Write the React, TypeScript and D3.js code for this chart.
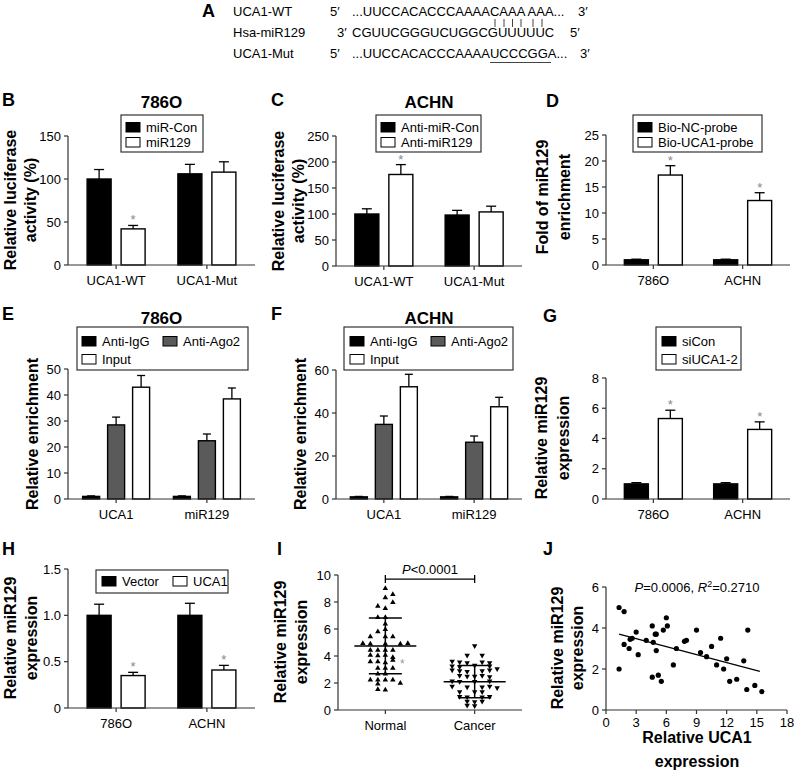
import React from 'react';
import * as d3 from 'd3';

const FONT = '"Liberation Sans", Arial, Helvetica, sans-serif';

// ---------------- data ----------------
const B_groups = ['UCA1-WT', 'UCA1-Mut'];
const B_series = ['miR-Con', 'miR129'];
const B_means = [[100, 106], [42, 108]];
const B_errs = [[11, 11], [4, 12]];
const B_sig = [[false, false], [true, false]];
const B_ticks = [0, 50, 100, 150];

const C_groups = ['UCA1-WT', 'UCA1-Mut'];
const C_series = ['Anti-miR-Con', 'Anti-miR129'];
const C_means = [[100, 98], [176, 104]];
const C_errs = [[10, 9], [19, 11]];
const C_sig = [[false, false], [true, false]];
const C_ticks = [0, 50, 100, 150, 200, 250];

const D_groups = ['786O', 'ACHN'];
const D_series = ['Bio-NC-probe', 'Bio-UCA1-probe'];
const D_means = [[1, 1], [17.3, 12.4]];
const D_errs = [[0.12, 0.12], [1.8, 1.5]];
const D_sig = [[false, false], [true, true]];
const D_ticks = [0, 5, 10, 15, 20, 25];

const E_groups = ['UCA1', 'miR129'];
const E_series = ['Anti-IgG', 'Anti-Ago2', 'Input'];
const E_means = [[1, 1], [28.5, 22.4], [43, 38.5]];
const E_errs = [[0.2, 0.2], [3, 2.6], [4.5, 4.2]];
const E_ticks = [0, 10, 20, 30, 40, 50];

const F_groups = ['UCA1', 'miR129'];
const F_series = ['Anti-IgG', 'Anti-Ago2', 'Input'];
const F_means = [[1, 1], [34.7, 26.4], [52.2, 42.9]];
const F_errs = [[0.2, 0.2], [3.9, 2.9], [5.8, 4.4]];
const F_ticks = [0, 20, 40, 60];

const G_groups = ['786O', 'ACHN'];
const G_series = ['siCon', 'siUCA1-2'];
const G_means = [[1, 1], [5.32, 4.6]];
const G_errs = [[0.08, 0.08], [0.55, 0.5]];
const G_sig = [[false, false], [true, true]];
const G_ticks = [0, 2, 4, 6, 8];

const H_groups = ['786O', 'ACHN'];
const H_series = ['Vector', 'UCA1'];
const H_means = [[1, 1], [0.35, 0.41]];
const H_errs = [[0.12, 0.13], [0.035, 0.05]];
const H_sig = [[false, false], [true, true]];
const H_ticks = [0, 0.5, 1.0, 1.5];

const I_groups = ['Normal', 'Cancer'];
// [value, jitter lane]
const I_normal: [number, number][] = [
  [9.0, 0], [8.57, 1], [8.32, 0], [7.97, 1], [7.7, -1], [7.53, 0],
  [6.86, -1], [6.86, 0], [6.37, 0], [5.97, 0], [5.8, -1],
  [5.43, -2], [5.43, 0], [5.43, 1],
  [4.94, -3], [4.89, -2], [4.89, 0], [4.89, 2], [4.94, 3],
  [4.44, -2], [4.44, -1], [4.44, 0], [4.44, 1],
  [4.07, -2], [4.02, -1], [4.07, 0], [3.9, 1], [3.7, 1],
  [3.58, -2], [3.58, -1], [3.51, 0],
  [3.09, -1], [3.09, 0], [3.09, 1],
  [2.67, -1], [2.67, 0],
  [2.22, -2], [2.22, -1], [2.22, 0], [2.22, 1],
  [1.93, -1], [1.98, 2], [1.53, -1], [1.48, 0],
];
const I_cancer: [number, number][] = [
  [4.75, 0],
  [4.05, -1], [4.05, 1],
  [3.6, -3], [3.55, -2], [3.5, -1], [3.55, 1], [3.5, 2],
  [3.25, -3], [3.2, -2], [3.3, 0], [3.25, 2], [3.05, 3],
  [2.95, -3], [2.9, -2], [2.85, -1], [2.9, 1], [2.95, 2],
  [2.55, -2], [2.5, -1], [2.5, 0], [2.55, 1], [2.45, 2],
  [2.15, -3], [2.1, -2], [2.1, 0], [2.15, 2],
  [1.75, -3], [1.7, -1], [1.7, 1], [1.75, 2], [1.65, 3],
  [1.35, -2], [1.35, 0], [1.35, 1],
  [1.0, -2], [0.95, -1], [0.95, 1], [1.0, 2],
  [0.65, -1], [0.6, 0], [0.65, 1],
  [0.3, 0], [0.35, -1],
];
const I_mean = [4.75, 2.1];
const I_sd = [2.07, 1.2];
const I_ticks = [0, 2, 4, 6, 8, 10];
const I_bracket = 9.7;

const J_x = [1.3, 1.8, 1.3, 1.8, 2.3, 2.4, 2.6, 3.0, 3.2, 4.0, 4.9, 5.0, 4.6, 4.7, 5.0, 4.6, 5.2, 5.5, 5.7, 6.0, 6.1, 6.7, 7.0, 7.8, 8.0, 9.0, 9.4, 10.0, 10.5, 11.0, 11.4, 11.7, 12.0, 12.3, 13.0, 13.7, 14.0, 14.1, 14.8, 15.5];
const J_y = [5.0, 4.8, 2.0, 3.2, 3.0, 3.45, 3.5, 3.8, 2.7, 3.4, 3.7, 3.7, 4.1, 3.3, 2.9, 1.6, 1.7, 1.4, 3.9, 4.5, 4.1, 2.2, 3.0, 3.35, 3.4, 3.9, 2.8, 2.6, 3.1, 2.2, 3.5, 2.0, 2.5, 1.4, 1.5, 2.4, 1.0, 3.9, 1.2, 0.9];
const J_fit = { intercept: 3.87, slope: -0.13, from: 1.3, to: 15.3 };
const J_xticks = [0, 3, 6, 9, 12, 15, 18];
const J_yticks = [0, 2, 4, 6];

// ---------------- helpers ----------------
const AX = '#333';
const FILL2 = ['#000', '#fff'];
const FILL3 = ['#000', '#5a5a5a', '#fff'];

function YLabel({ lines, xs, y }: { lines: string[]; xs: number[]; y: number }) {
  return (
    <g>
      {lines.map((l, i) => (
        <text key={i} transform={`translate(${xs[i]},${y}) rotate(-90)`} textAnchor="middle" dy="0.35em"
          fontWeight="bold" fontSize={16}>{l}</text>
      ))}
    </g>
  );
}

function YAxis({ y, x0, ticks, fmt }: any) {
  return (
    <g>
      <line x1={x0} x2={x0} y1={y(ticks[0])} y2={y(ticks[ticks.length - 1])} stroke={AX} strokeWidth={1.2} />
      {ticks.map((t: number) => (
        <g key={t}>
          <line x1={x0 - 4} x2={x0} y1={y(t)} y2={y(t)} stroke={AX} strokeWidth={1.2} />
          <text x={x0 - 7} y={y(t)} dy="0.35em" textAnchor="end" fontSize={13}>{fmt ? fmt(t) : String(t)}</text>
        </g>
      ))}
    </g>
  );
}

function Legend({ lg, series, fills }: any) {
  return (
    <g>
      <rect x={lg.x} y={lg.y} width={lg.w} height={lg.h} fill="#fff" stroke={AX} strokeWidth={1.2} />
      {series.map((s: string, i: number) => (
        <g key={s}>
          <rect x={lg.items[i][0]} y={lg.items[i][1] - 4.5} width={14} height={9.5} fill={fills[i]} stroke="#000" strokeWidth={1} />
          <text x={lg.items[i][0] + 20} y={lg.items[i][1]} dy="0.35em" fontSize={13}>{s}</text>
        </g>
      ))}
    </g>
  );
}

function BarPanel(p: any) {
  const y = d3.scaleLinear().domain([0, p.max]).range([p.y0, p.y1]);
  const xb = d3.scaleBand().domain(p.groups).range([p.x0, p.x1]).paddingInner(0).paddingOuter(0.03);
  const n = p.series.length;
  const center = (g: string) => (xb(g) as number) + xb.bandwidth() / 2;
  const bars: any[] = [];
  p.series.forEach((s: string, si: number) =>
    p.groups.forEach((g: string, gi: number) => {
      const cx = center(g) + (si - (n - 1) / 2) * p.step;
      bars.push({ cx, v: p.means[si][gi], e: p.errs[si][gi], si, sig: p.sig ? p.sig[si][gi] : false });
    })
  );
  return (
    <g>
      {bars.map((b, i) => (
        <g key={i}>
          <line x1={b.cx} x2={b.cx} y1={y(b.v)} y2={y(b.v + b.e)} stroke="#000" strokeWidth={1.3} />
          <line x1={b.cx - p.cap} x2={b.cx + p.cap} y1={y(b.v + b.e)} y2={y(b.v + b.e)} stroke="#000" strokeWidth={1.3} />
          <rect x={b.cx - p.barW / 2} y={y(b.v)} width={p.barW} height={y(0) - y(b.v)} fill={p.fills[b.si]} stroke="#000" strokeWidth={1.4} />
          {b.sig && (
            <text x={b.cx} y={y(b.v + b.e) - 1} textAnchor="middle" fontSize={13} fill="#888">*</text>
          )}
        </g>
      ))}
      <YAxis y={y} x0={p.x0} ticks={p.ticks} fmt={p.fmt} />
      <line x1={p.x0} x2={p.x1} y1={y(0)} y2={y(0)} stroke={AX} strokeWidth={1.2} />
      {p.groups.map((g: string) => (
        <g key={g}>
          <line x1={center(g)} x2={center(g)} y1={y(0)} y2={y(0) + 4} stroke={AX} strokeWidth={1.2} />
          <text x={center(g)} y={y(0) + 19.5} textAnchor="middle" fontSize={13}>{g}</text>
        </g>
      ))}
      {p.title && (
        <text x={(p.x0 + p.x1) / 2} y={p.titleY} textAnchor="middle" fontWeight="bold" fontSize={17}>{p.title}</text>
      )}
      <Legend lg={p.legend} series={p.series} fills={p.fills} />
      <YLabel lines={p.ylabel} xs={p.ylabelX} y={p.ylabelY} />
    </g>
  );
}

function PanelI() {
  const x0 = 338, x1 = 522;
  const y = d3.scaleLinear().domain([0, 10]).range([710, 575]);
  const xb = d3.scaleBand().domain(I_groups).range([x0, x1]).paddingOuter(0.03);
  const c = (g: string) => (xb(g) as number) + xb.bandwidth() / 2;
  const lane = 7.5;
  const tri = d3.symbol().type(d3.symbolTriangle).size(13)() as string;
  const sets = [I_normal, I_cancer];
  return (
    <g>
      {sets.map((pts, gi) =>
        pts.map((d, i) => (
          <path key={gi + '-' + i} d={tri}
            transform={`translate(${c(I_groups[gi]) + d[1] * lane},${y(d[0])})${gi === 1 ? ' rotate(180)' : ''}`}
            fill="#000" />
        ))
      )}
      {I_groups.map((g, gi) => {
        const cx = c(g);
        const hi = I_mean[gi] + I_sd[gi], lo = I_mean[gi] - I_sd[gi];
        return (
          <g key={g} stroke="#000" strokeWidth={1.5}>
            <line x1={cx - 31} x2={cx + 31} y1={y(I_mean[gi])} y2={y(I_mean[gi])} />
            <line x1={cx - 16.5} x2={cx + 16.5} y1={y(hi)} y2={y(hi)} />
            <line x1={cx - 16.5} x2={cx + 16.5} y1={y(lo)} y2={y(lo)} />
            <line x1={cx} x2={cx} y1={y(hi)} y2={y(lo)} />
          </g>
        );
      })}
      <text x={c('Normal') + 17} y={y(3.6)} dy="0.55em" textAnchor="middle" fontSize={12} fill="#999">*</text>
      <g stroke="#000" strokeWidth={1.3}>
        <line x1={c('Normal')} x2={c('Cancer')} y1={y(I_bracket)} y2={y(I_bracket)} />
        <line x1={c('Normal')} x2={c('Normal')} y1={y(I_bracket) - 4} y2={y(I_bracket) + 4} />
        <line x1={c('Cancer')} x2={c('Cancer')} y1={y(I_bracket) - 4} y2={y(I_bracket) + 4} />
      </g>
      <text x={(c('Normal') + c('Cancer')) / 2} y={y(I_bracket) - 5} textAnchor="middle" fontSize={13}>
        <tspan fontStyle="italic">P</tspan>{'<0.0001'}
      </text>
      <YAxis y={y} x0={x0} ticks={I_ticks} />
      <line x1={x0} x2={x1} y1={y(0)} y2={y(0)} stroke={AX} strokeWidth={1.2} />
      {I_groups.map((g) => (
        <g key={g}>
          <line x1={c(g)} x2={c(g)} y1={y(0)} y2={y(0) + 4} stroke={AX} strokeWidth={1.2} />
          <text x={c(g)} y={y(0) + 19.5} textAnchor="middle" fontSize={13}>{g}</text>
        </g>
      ))}
      <YLabel lines={['Relative miR129', 'expression']} xs={[280, 301]} y={642} />
    </g>
  );
}

function PanelJ() {
  const x = d3.scaleLinear().domain([0, 18]).range([606, 787]);
  const y = d3.scaleLinear().domain([0, 6]).range([710, 587]);
  const fy = (v: number) => J_fit.intercept + J_fit.slope * v;
  return (
    <g>
      {J_x.map((v, i) => (
        <circle key={i} cx={x(v)} cy={y(J_y[i])} r={2.6} fill="#000" />
      ))}
      <line x1={x(J_fit.from)} x2={x(J_fit.to)} y1={y(fy(J_fit.from))} y2={y(fy(J_fit.to))} stroke="#000" strokeWidth={1.2} />
      <YAxis y={y} x0={606} ticks={J_yticks} />
      <line x1={606} x2={787} y1={710} y2={710} stroke={AX} strokeWidth={1.2} />
      {J_xticks.map((t) => (
        <g key={t}>
          <line x1={x(t)} x2={x(t)} y1={710} y2={714} stroke={AX} strokeWidth={1.2} />
          <text x={x(t)} y={727} textAnchor="middle" fontSize={13}>{t}</text>
        </g>
      ))}
      <text x={697} y={592} textAnchor="middle" fontSize={13}>
        <tspan fontStyle="italic">P</tspan>{'=0.0006, '}<tspan fontStyle="italic">R</tspan>
        <tspan fontSize={9} dy={-5}>2</tspan><tspan dy={5}>{'=0.2710'}</tspan>
      </text>
      <text x={697} y={743} textAnchor="middle" fontWeight="bold" fontSize={16}>Relative UCA1</text>
      <text x={697} y={767} textAnchor="middle" fontWeight="bold" fontSize={16}>expression</text>
      <YLabel lines={['Relative miR129', 'expression']} xs={[557, 577]} y={648} />
    </g>
  );
}

function PanelA() {
  const bars = [495, 504, 512.5, 521, 533, 542];
  return (
    <g fontSize={13}>
      <text x={233} y={16}>UCA1-WT</text>
      <text x={330} y={16}>5′</text>
      <text x={352} y={16}>...UUCCACACCCAAAACAAA AAA...</text>
      <text x={578} y={16}>3′</text>
      {bars.map((b) => (
        <line key={b} x1={b} x2={b} y1={19} y2={27} stroke="#444" strokeWidth={1} />
      ))}
      <text x={233} y={37}>Hsa-miR129</text>
      <text x={337} y={37}>3′</text>
      <text x={352} y={37}>CGUUCGGGUCUGGCGUUUUUC</text>
      <text x={570} y={37}>5′</text>
      <text x={233} y={58}>UCA1-Mut</text>
      <text x={330} y={58}>5′</text>
      <text x={352} y={58}>...UUCCACACCCAAAAUCCCGGA...</text>
      <text x={580} y={58}>3′</text>
      <line x1={490} x2={551} y1={62.5} y2={62.5} stroke="#444" strokeWidth={1} />
    </g>
  );
}

const LETTERS: [string, number, number][] = [
  ['A', 202, 17], ['B', 2, 106], ['C', 271, 106], ['D', 546, 107],
  ['E', 2, 320], ['F', 271, 320], ['G', 543, 322],
  ['H', 2, 555], ['I', 277, 555], ['J', 543, 555],
];

export default function App() {
  return (
    <svg width={794} height={774} style={{ position: 'absolute', left: 0, top: 0, background: '#fff' }}
      fontFamily={FONT}>
      <rect width={794} height={774} fill="#fff" />
      <PanelA />
      <BarPanel groups={B_groups} series={B_series} means={B_means} errs={B_errs} sig={B_sig}
        ticks={B_ticks} max={150} x0={68} x1={255} y0={265} y1={136} barW={24} step={34} cap={5}
        fills={FILL2} title="786O" titleY={108}
        legend={{ x: 121, y: 115, w: 82, h: 37, items: [[126, 127], [126, 142]] }}
        ylabel={['Relative luciferase', 'activity (%)']} ylabelX={[10, 30]} ylabelY={200} />
      <BarPanel groups={C_groups} series={C_series} means={C_means} errs={C_errs} sig={C_sig}
        ticks={C_ticks} max={250} x0={336} x1={522} y0={266} y1={136} barW={24} step={34} cap={5}
        fills={FILL2} title="ACHN" titleY={108}
        legend={{ x: 376, y: 115, w: 105, h: 37, items: [[381, 127], [381, 142]] }}
        ylabel={['Relative luciferase', 'activity (%)']} ylabelX={[278, 298]} ylabelY={201} />
      <BarPanel groups={D_groups} series={D_series} means={D_means} errs={D_errs} sig={D_sig}
        ticks={D_ticks} max={25} x0={606} x1={790} y0={265} y1={135} barW={24} step={34} cap={5}
        fills={FILL2}
        legend={{ x: 633, y: 115, w: 129, h: 37, items: [[638, 127], [638, 142]] }}
        ylabel={['Fold of miR129', 'enrichment']} ylabelX={[542, 564]} ylabelY={197} />
      <BarPanel groups={E_groups} series={E_series} means={E_means} errs={E_errs}
        ticks={E_ticks} max={50} x0={68} x1={255} y0={499} y1={369} barW={17} step={25} cap={4}
        fills={FILL3} title="786O" titleY={324}
        legend={{ x: 77, y: 327, w: 171, h: 43, items: [[82, 341], [163, 341], [82, 359]] }}
        ylabel={['Relative enrichment']} ylabelX={[32]} ylabelY={434} />
      <BarPanel groups={F_groups} series={F_series} means={F_means} errs={F_errs}
        ticks={F_ticks} max={60} x0={336} x1={522} y0={499} y1={370} barW={17} step={25} cap={4}
        fills={FILL3} title="ACHN" titleY={324}
        legend={{ x: 344, y: 327, w: 169, h: 43, items: [[350, 341], [431, 341], [350, 359]] }}
        ylabel={['Relative enrichment']} ylabelX={[300]} ylabelY={434} />
      <BarPanel groups={G_groups} series={G_series} means={G_means} errs={G_errs} sig={G_sig}
        ticks={G_ticks} max={8} x0={606} x1={790} y0={499} y1={378} barW={24} step={34} cap={5}
        fills={FILL2}
        legend={{ x: 656, y: 327, w: 85, h: 43, items: [[662, 341], [662, 359]] }}
        ylabel={['Relative miR129', 'expression']} ylabelX={[541, 563]} ylabelY={438} />
      <BarPanel groups={H_groups} series={H_series} means={H_means} errs={H_errs} sig={H_sig}
        ticks={H_ticks} max={1.5} x0={68} x1={255} y0={708} y1={569} barW={24} step={34} cap={5}
        fills={FILL2} fmt={(d: number) => (d === 0 ? '0' : d.toFixed(1))}
        legend={{ x: 96, y: 570, w: 132, h: 23, items: [[102, 581], [173, 581]] }}
        ylabel={['Relative miR129', 'expression']} ylabelX={[10, 31]} ylabelY={638} />
      <PanelI />
      <PanelJ />
      {LETTERS.map(([l, x, y]) => (
        <text key={l} x={x} y={y} fontWeight="bold" fontSize={18}>{l}</text>
      ))}
    </svg>
  );
}
